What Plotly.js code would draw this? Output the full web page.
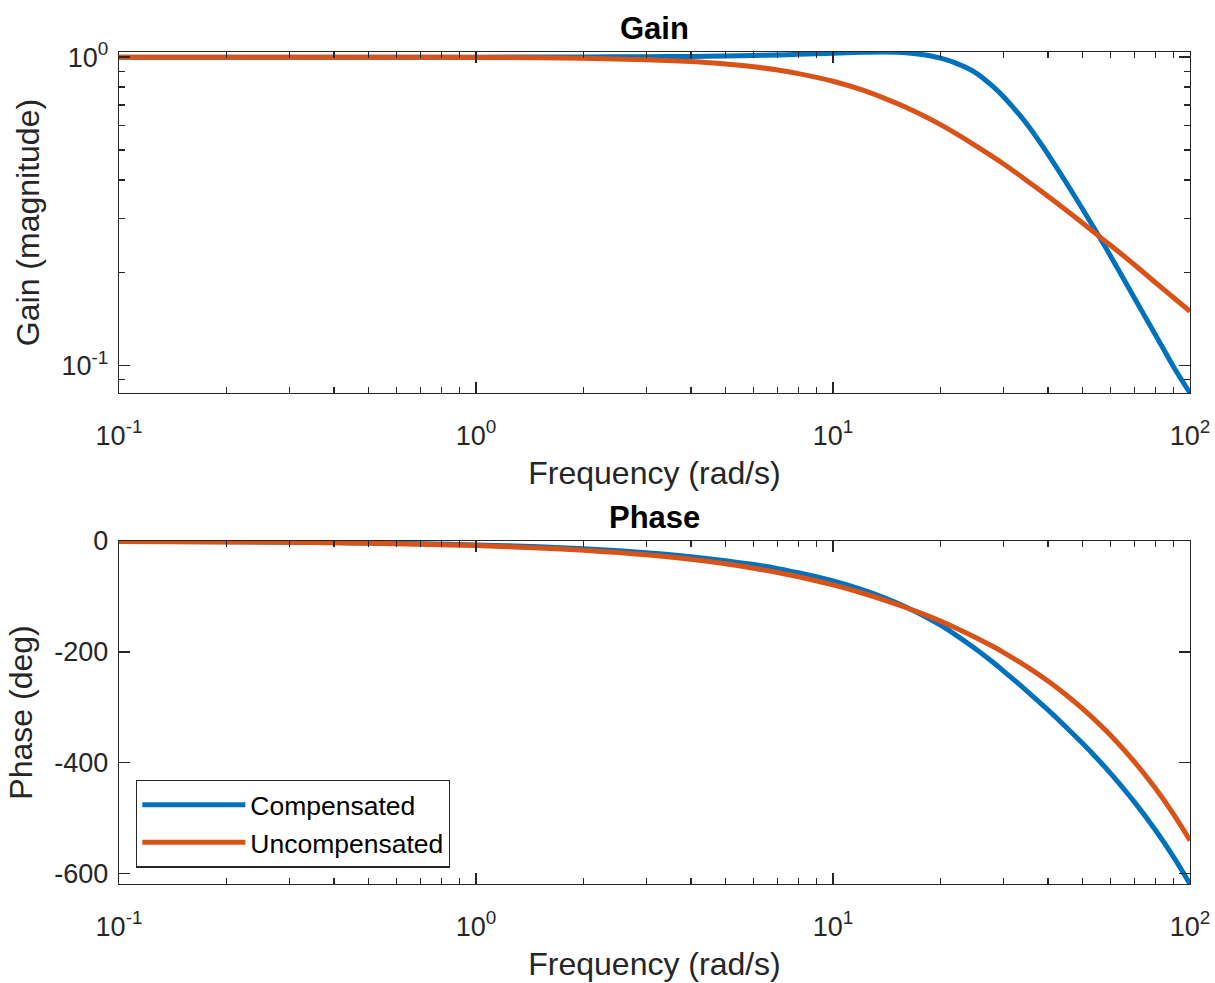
<!DOCTYPE html>
<html>
<head>
<meta charset="utf-8">
<script src="https://cdn.plot.ly/plotly-3.0.1.min.js"></script>
<style>
  html, body { margin: 0; padding: 0; background: #ffffff; }
  #chart { width: 1215px; height: 983px; }
</style>
</head>
<body>
<div id="chart"></div>
<script>
// ---- data ----
const freq = [0.1, 0.2, 0.3, 0.5, 0.7, 1, 1.5, 2, 3, 4, 5, 6, 7, 8, 10, 12, 14, 16, 18, 20,
              22, 25, 28, 30, 35, 40, 45, 50, 56, 60, 70, 80, 90, 100];

const gainCompensated = [1.000, 1.000, 1.000, 1.000, 1.000, 1.000, 1.001, 1.001, 1.003, 1.005,
                         1.008, 1.012, 1.016, 1.021, 1.030, 1.037, 1.039, 1.034, 1.018, 0.992,
                         0.958, 0.893, 0.805, 0.745, 0.605, 0.485, 0.392, 0.322, 0.259, 0.226,
                         0.165, 0.126, 0.099, 0.0815];

const gainUncompensated = [1.000, 1.000, 1.000, 0.999, 0.999, 0.998, 0.995, 0.991, 0.981, 0.967,
                           0.950, 0.930, 0.908, 0.884, 0.835, 0.784, 0.734, 0.688, 0.644, 0.604,
                           0.567, 0.518, 0.476, 0.451, 0.397, 0.354, 0.319, 0.290, 0.261, 0.245,
                           0.212, 0.186, 0.166, 0.150];

const phaseCompensated = [-0.70, -1.41, -2.11, -3.52, -4.93, -7.04, -10.57, -14.09, -21.16, -28.26,
                          -35.40, -42.58, -49.83, -57.14, -72.00, -87.21, -102.8, -118.9, -135.3, -151.9,
                          -168.8, -193.9, -218.3, -234.1, -271.0, -304.6, -335.7, -364.8, -398.0, -419.4,
                          -471.2, -521.1, -570.0, -618.4];

const phaseUncompensated = [-0.84, -1.67, -2.51, -4.18, -5.86, -8.36, -12.53, -16.69, -24.95, -33.12,
                            -41.18, -49.10, -56.89, -64.50, -79.26, -93.38, -106.9, -119.9, -132.4, -144.5,
                            -156.3, -173.4, -189.9, -200.7, -227.0, -252.6, -277.7, -302.3, -331.6, -350.8,
                            -398.7, -446.0, -492.9, -539.8];

const seriesNames = ["Compensated", "Uncompensated"];

const xTickVals = [0.1, 1, 10, 100];
const xTickText = ["10<sup>-1</sup>", "10<sup>0</sup>", "10<sup>1</sup>", "10<sup>2</sup>"];
const xMinorVals = [0.2, 0.3, 0.4, 0.5, 0.6, 0.7, 0.8, 0.9, 2, 3, 4, 5, 6, 7, 8, 9,
                    20, 30, 40, 50, 60, 70, 80, 90];

const gainTickVals = [0.1, 1];
const gainTickText = ["10<sup>-1</sup>", "10<sup>0</sup>"];
const gainMinorVals = [0.09, 0.2, 0.3, 0.4, 0.5, 0.6, 0.7, 0.8, 0.9];

const phaseTickVals = [-600, -400, -200, 0];
const phaseTickText = ["-600", "-400", "-200", "0"];

// ---- style ----
const BLUE = "#0072BD";
const ORANGE = "#D95319";
const AX = "#262626";
const FONT = "Liberation Sans, Arial, Helvetica, sans-serif";
const TICK_SIZE = 27;
const LABEL_SIZE = 32;
const TITLE_SIZE = 31;

const traces = [
  { x: freq, y: gainCompensated, xaxis: "x", yaxis: "y", name: seriesNames[0], showlegend: false,
    mode: "lines", line: { color: BLUE, width: 5, shape: "spline", smoothing: 0.8 } },
  { x: freq, y: gainUncompensated, xaxis: "x", yaxis: "y", name: seriesNames[1], showlegend: false,
    mode: "lines", line: { color: ORANGE, width: 5, shape: "spline", smoothing: 0.8 } },
  { x: freq, y: phaseCompensated, xaxis: "x2", yaxis: "y2", name: seriesNames[0], showlegend: true,
    mode: "lines", line: { color: BLUE, width: 5, shape: "spline", smoothing: 0.8 } },
  { x: freq, y: phaseUncompensated, xaxis: "x2", yaxis: "y2", name: seriesNames[1], showlegend: true,
    mode: "lines", line: { color: ORANGE, width: 5, shape: "spline", smoothing: 0.8 } }
];

function xAxis(anchor) {
  return {
    anchor: anchor, domain: [0, 1], type: "log", range: [-1, 2],
    tickmode: "array", tickvals: xTickVals, ticktext: xTickText,
    ticks: "inside", ticklen: 11, tickwidth: 1.3, tickcolor: AX,
    showline: true, linecolor: AX, linewidth: 1.3, mirror: "ticks",
    showgrid: false, zeroline: false,
    minor: { tickmode: "array", tickvals: xMinorVals, ticks: "inside", ticklen: 6, tickwidth: 1.3, tickcolor: AX, showgrid: false },
    tickfont: { family: FONT, size: TICK_SIZE, color: AX },
    ticklabelstandoff: 18,
    title: { text: "Frequency (rad/s)", font: { family: FONT, size: LABEL_SIZE, color: AX }, standoff: 12 }
  };
}

const gMin = Math.min(...gainCompensated, ...gainUncompensated);
const gMax = Math.max(...gainCompensated, ...gainUncompensated);
const pMin = Math.min(...phaseCompensated, ...phaseUncompensated);

const layout = {
  width: 1215, height: 983,
  paper_bgcolor: "#ffffff", plot_bgcolor: "#ffffff",
  margin: { l: 119, r: 25, t: 52, b: 99 },
  font: { family: FONT, color: AX },
  xaxis: xAxis("y"),
  xaxis2: xAxis("y2"),
  yaxis: {
    anchor: "x", domain: [0.5901, 1], type: "log",
    range: [Math.log10(gMin), Math.log10(gMax)],
    tickmode: "array", tickvals: gainTickVals, ticktext: gainTickText,
    ticks: "inside", ticklen: 11, tickwidth: 1.3, tickcolor: AX,
    showline: true, linecolor: AX, linewidth: 1.3, mirror: "ticks",
    showgrid: false, zeroline: false,
    minor: { tickmode: "array", tickvals: gainMinorVals, ticks: "inside", ticklen: 6, tickwidth: 1.3, tickcolor: AX, showgrid: false },
    tickfont: { family: FONT, size: TICK_SIZE, color: AX },
    ticklabelstandoff: 4,
    title: { text: "Gain (magnitude)", font: { family: FONT, size: LABEL_SIZE, color: AX }, standoff: 12 }
  },
  yaxis2: {
    anchor: "x2", domain: [0, 0.4123],
    range: [pMin, 0],
    tickmode: "array", tickvals: phaseTickVals, ticktext: phaseTickText,
    ticks: "inside", ticklen: 11, tickwidth: 1.3, tickcolor: AX,
    showline: true, linecolor: AX, linewidth: 1.3, mirror: "ticks",
    showgrid: false, zeroline: false,
    tickfont: { family: FONT, size: TICK_SIZE, color: AX },
    ticklabelstandoff: 4,
    title: { text: "Phase (deg)", font: { family: FONT, size: LABEL_SIZE, color: AX }, standoff: 12 }
  },
  showlegend: true,
  legend: {
    x: 0.0159, y: 0.0195, xanchor: "left", yanchor: "bottom",
    xref: "paper", yref: "paper",
    bgcolor: "#ffffff", bordercolor: AX, borderwidth: 1.3,
    font: { family: FONT, size: 26.5, color: "#000000" },
    itemwidth: 103, tracegroupgap: 0, entrywidth: 318
  },
  annotations: [
    { text: "<b>Gain</b>", xref: "paper", yref: "paper", x: 0.5, y: 1, xanchor: "center", yanchor: "bottom",
      yshift: 4, showarrow: false, font: { family: FONT, size: TITLE_SIZE, color: "#000000" } },
    { text: "<b>Phase</b>", xref: "paper", yref: "paper", x: 0.5, y: 0.4123, xanchor: "center", yanchor: "bottom",
      yshift: 4, showarrow: false, font: { family: FONT, size: TITLE_SIZE, color: "#000000" } }
  ]
};

Plotly.newPlot("chart", traces, layout, { displayModeBar: false, staticPlot: true });
</script>
</body>
</html>
